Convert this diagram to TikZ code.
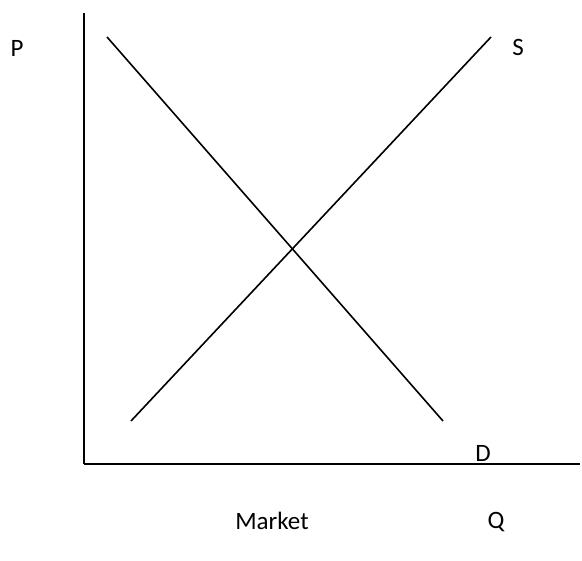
\documentclass[tikz,border=0pt]{standalone}
\usepackage{fontspec}
\setmainfont{Carlito}
\usepackage{tikz}
\usetikzlibrary{positioning}

\begin{document}
\begin{tikzpicture}[
        x=1pt, y=-1pt,
        curve/.style={line width=1.6pt},
        axis/.style={line width=1.6pt},
        every node/.style={font=\fontsize{25}{30}\selectfont, inner sep=0pt}
      ]
      \useasboundingbox (0,0) rectangle (582,561);
      % axes
      \coordinate (top) at (84,13);
      \coordinate (brk) at (84,207);
      \coordinate (origin) at (84,464);
      \coordinate (q1) at (445,464);
      \coordinate (q2) at (540,464);
      \coordinate (right) at (580,464);
      \draw[axis] (top) -- (brk);
      \draw[line width=2.6pt] (brk) -- (origin);
      \draw[axis] (origin) -- (right);
      \draw[line width=2.4pt] (q1) -- (q2);
      % demand and supply
      \coordinate (d1) at (107,37);
      \coordinate (d2) at (443,421);
      \coordinate (s1) at (131,421);
      \coordinate (s2) at (491,37);
      \draw[curve] (d1) -- (d2);
      \draw[curve] (s1) -- (s2);
      % labels
      \node (p) at (17,48) {P};
      \node (s) at (518,47) {S};
      \node (d) at (483,453) {D};
      \node (market) at (272,521) {Market};
      \node (q) at (496,522) {Q};
    \end{tikzpicture}
\end{document}
